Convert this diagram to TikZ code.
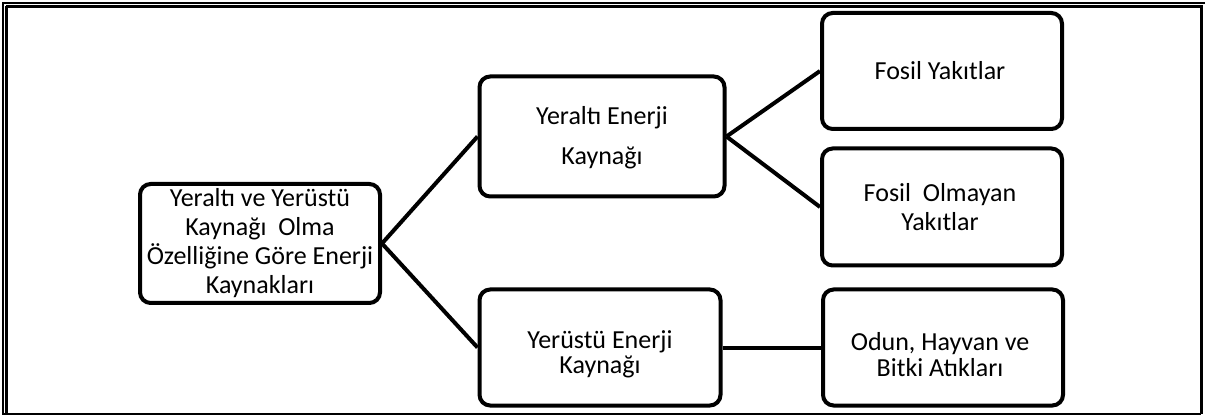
\documentclass[tikz,border=0pt]{standalone}
\usepackage{fontspec}
\setmainfont{Carlito}
\begin{document}
\begin{tikzpicture}[x=0.75pt,y=-0.75pt,
  box/.style={draw=black,line width=3pt,rounded corners=8pt,fill=white,inner sep=0pt},
  conn/.style={draw=black,line width=3pt},
  lbl/.style={inner sep=0pt,align=center,font=\fontsize{19.5}{21.75}\selectfont},
  frame/.style={draw=black,line width=1.6pt}]
\useasboundingbox (0,0) rectangle (1205,416);
% frame
\draw[frame] (2,3) -- (1205,3);
\draw[frame] (3,3) -- (3,414) -- (1201,414);
\draw[frame] (6,6.5) -- (1201,6.5);
\draw[frame] (6.5,6) -- (6.5,414);
\draw[draw=black,line width=2.2pt] (1201.5,5.5) -- (1201.5,414);
% boxes
\node[box,minimum width=240*0.75pt,minimum height=119*0.75pt] (root) at (260,243.5) {};
\node[box,minimum width=245*0.75pt,minimum height=120*0.75pt] (ylt) at (602,136.5) {};
\node[box,minimum width=240*0.75pt,minimum height=116*0.75pt] (fos) at (942,71) {};
\node[box,minimum width=240*0.75pt,minimum height=117*0.75pt] (fol) at (942,207) {};
\node[box,minimum width=241*0.75pt,minimum height=116*0.75pt] (yus) at (600,347.5) {};
\node[box,minimum width=240*0.75pt,minimum height=116*0.75pt] (odn) at (943,347.5) {};
% labels
\node[lbl] (troot) at (260,243.5) {Yeraltı ve Yerüstü\\Kaynağı\ \ Olma\\Özelliğine Göre Enerji\\Kaynakları};
\node[lbl,font=\fontsize{19.5}{30}\selectfont] (tylt) at (602,138) {Yeraltı Enerji\\Kaynağı};
\node[lbl] (tfos) at (940,71) {Fosil Yakıtlar};
\node[lbl] (tfol) at (940,207.5) {Fosil\ \ Olmayan\\Yakıtlar};
\node[lbl,font=\fontsize{19.5}{19}\selectfont] (tyus) at (600,354.5) {Yerüstü Enerji\\Kaynağı};
\node[lbl,font=\fontsize{19.5}{19}\selectfont] (todn) at (940,354.5) {Odun, Hayvan ve\\Bitki Atıkları};
% connectors
\draw[conn] (root.east) -- (ylt.west);
\draw[conn] (root.east) -- (yus.west);
\draw[conn] (ylt.east) -- (fos.west);
\draw[conn] (ylt.east) -- (fol.west);
\draw[conn] (yus.east) -- (odn.west);
\end{tikzpicture}
\end{document}
